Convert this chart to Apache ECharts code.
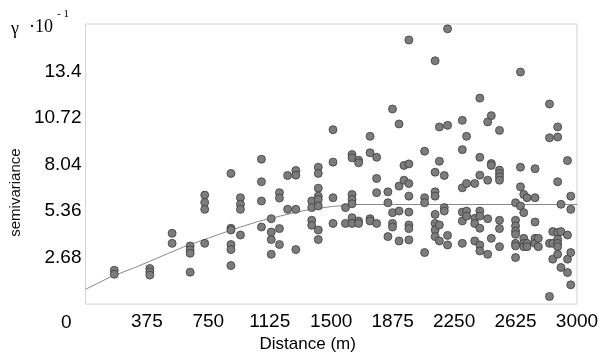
<!DOCTYPE html>
<html style="height: 100%">

<head>
    <meta charset="UTF-8" />
    <script type="text/javascript" src="https://cdn.jsdelivr.net/npm/echarts@6/dist/echarts.min.js"></script>
</head>

<body style="height: 100%; margin: 0; background: #fff">
    <div id="container" style="width: 602px; height: 358px"></div>
    <script>
        // lag distances (m) of the point columns in the cloud
        var cloudLags = [176, 393, 529, 639, 728, 888, 946, 1074, 1134, 1184, 1234, 1284, 1381, 1421,
            1511, 1587, 1627, 1667, 1737, 1777, 1846, 1874, 1914, 1944, 1974, 2070, 2134, 2160, 2190,
            2210, 2300, 2326, 2376, 2407, 2455, 2477, 2527, 2625, 2655, 2675, 2695, 2744, 2764, 2832,
            2852, 2882, 2902, 2942, 2962];
        // semivariance values (x 10^-1) at each lag
        var cloudValues = [
            [1.95, 1.72],
            [2.05, 1.86, 1.67],
            [4.08, 3.50],
            [3.35, 3.12, 2.93, 1.84],
            [6.28, 5.86, 5.46, 3.50],
            [7.53, 4.37, 4.27, 3.43, 3.14, 2.22],
            [6.13, 5.75, 5.46, 3.98],
            [8.35, 7.05, 5.94, 4.44],
            [4.92, 4.15, 3.72, 2.87],
            [6.42, 6.11, 4.35, 3.43],
            [7.41, 5.46],
            [7.70, 7.43, 5.46, 3.14],
            [5.94, 5.56, 4.83, 4.54],
            [7.89, 7.53, 6.68, 6.22, 6.03, 5.65, 4.27, 3.72],
            [10.05, 8.18, 6.13, 4.65],
            [5.56, 4.65],
            [8.62, 8.43, 6.32, 6.03, 5.78, 4.98, 4.65],
            [8.29, 8.14, 4.79, 4.65],
            [9.67, 8.72, 4.92, 4.79],
            [8.46, 7.24, 6.42, 4.65],
            [6.47, 5.84, 3.89],
            [11.24, 5.27, 4.65, 4.44],
            [10.38, 6.80, 5.36, 3.64],
            [7.99, 7.14],
            [15.22, 8.08, 6.95, 6.22, 5.30, 4.56, 4.35, 3.70],
            [8.81, 6.13, 5.84, 2.97],
            [14.02, 7.60, 6.47, 6.22, 5.17, 4.65, 4.27, 3.89],
            [10.21, 8.23, 4.56, 3.64],
            [7.41, 5.56, 5.36],
            [15.86, 10.30, 3.96, 3.41],
            [10.59, 8.90, 6.70, 5.30, 4.79, 3.50],
            [9.67, 6.95, 5.36, 5.07],
            [6.95, 4.94, 4.64, 3.64],
            [11.87, 8.46, 7.43, 5.36, 5.07, 4.37, 3.41, 3.06],
            [10.50, 7.14, 4.92, 2.87],
            [10.86, 8.10, 7.99, 3.79],
            [10.01, 7.72, 7.53, 7.34, 7.14, 4.83, 4.35, 3.31],
            [5.84, 4.83, 4.50, 4.21, 4.02, 3.50, 3.35, 2.68],
            [13.37, 7.89, 6.76, 5.65],
            [6.32, 5.27, 3.79, 3.50, 3.31],
            [6.13, 3.50, 3.31],
            [7.80, 6.13, 4.73, 3.79, 3.50],
            [3.79, 3.31],
            [11.53, 9.58, 3.50, 0.44],
            [4.18, 3.50, 2.59],
            [10.21, 9.63, 7.05, 4.12, 3.73, 3.50, 3.31, 2.87],
            [5.75, 4.18, 2.11],
            [8.27, 3.98, 2.59, 1.82],
            [6.22, 5.46, 2.97, 1.11]
        ];
        // fitted model curve
        var curveDist = [0, 150, 300, 450, 600, 750, 900, 1050, 1200, 1350, 1500, 1650, 3000];
        var curveGamma = [0.85, 1.55, 2.1, 2.7, 3.3, 3.8, 4.3, 4.75, 5.1, 5.42, 5.62, 5.74, 5.74];
        var xTicks = [375, 750, 1125, 1500, 1875, 2250, 2625, 3000];
        var yTicks = [2.68, 5.36, 8.04, 10.72, 13.4];

        var cloud = [];
        cloudLags.forEach(function (lag, i) {
            cloudValues[i].forEach(function (v) { cloud.push([lag, v]); });
        });
        var curve = curveDist.map(function (d, i) { return [d, curveGamma[i]]; });

        var dom = document.getElementById("container");
        var chart = echarts.init(dom, null, { renderer: 'canvas' });

        var sans = 'Liberation Sans';
        var serif = 'Liberation Serif';

        function corner(text, left, top, size, family) {
            return {
                text: text, left: left, top: top, padding: 0,
                textStyle: { fontFamily: family || serif, fontSize: size, fontWeight: 'normal', color: '#000' }
            };
        }

        chart.setOption({
            animation: false,
            title: [
                corner('γ', 11, 20, 18),
                corner('·10', 29, 18, 18),
                corner('- 1', 57, 9, 11),
                // origin label, placed left of the axis start as in the original
                corner('0', 61, 313, 19, sans)
            ],
            grid: {
                left: 76, top: 24, right: 25, bottom: 53,
                show: true, borderColor: '#d2d2d2', borderWidth: 1, backgroundColor: '#fff'
            },
            xAxis: {
                type: 'value',
                min: 0, max: 3000, interval: 375,
                name: 'Distance (m)',
                nameLocation: 'middle',
                nameGap: 31,
                nameTextStyle: { fontFamily: sans, fontSize: 17, color: '#000', padding: [0, 47, 0, 0] },
                axisLine: { show: false },
                axisTick: { show: false },
                splitLine: { show: false },
                axisLabel: {
                    margin: 8,
                    fontFamily: sans, fontSize: 19, color: '#000',
                    formatter: function (v) {
                        return xTicks.indexOf(v) < 0 ? '' : String(v);
                    }
                }
            },
            yAxis: {
                type: 'value',
                min: 0, max: 16.14, interval: 2.68,
                name: 'semivariance',
                nameLocation: 'middle',
                nameRotate: 90,
                nameGap: 49,
                nameTextStyle: { fontFamily: sans, fontSize: 15, color: '#111', padding: [0, 57, 0, 0] },
                axisLine: { show: false },
                axisTick: { show: false },
                splitLine: { show: false },
                axisLabel: {
                    margin: 4,
                    fontFamily: sans, fontSize: 19, color: '#000',
                    formatter: function (v) {
                        var r = parseFloat(v.toFixed(2));
                        return yTicks.indexOf(r) < 0 ? '' : String(r);
                    }
                }
            },
            series: [
                {
                    type: 'line',
                    data: curve,
                    showSymbol: false,
                    lineStyle: { color: '#8a8a8a', width: 1 },
                    z: 1
                },
                {
                    type: 'scatter',
                    data: cloud,
                    symbolSize: 8,
                    itemStyle: { color: '#7c7c7c', borderColor: '#3c3c3c', borderWidth: 0.8, opacity: 1 },
                    z: 2
                }
            ]
        });
    </script>
</body>

</html>
